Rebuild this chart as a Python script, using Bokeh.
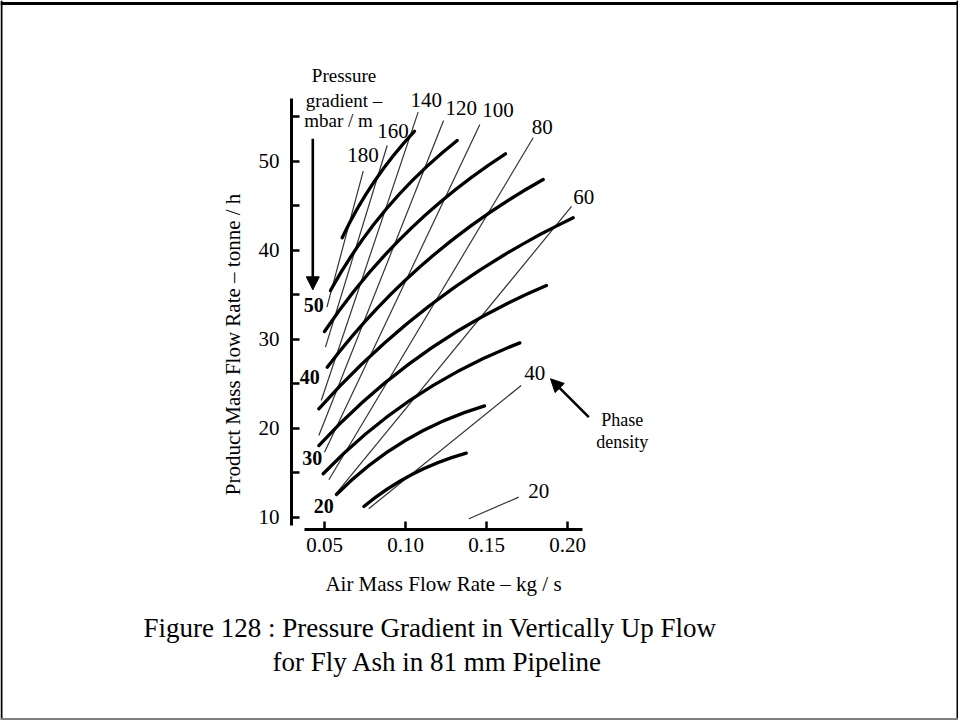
import math
from bokeh.plotting import figure
from bokeh.models import (Label, LabelSet, Arrow, NormalHead, FixedTicker, Range1d,
                          NumeralTickFormatter, ColumnDataSource)
from bokeh.embed import file_html
from bokeh.resources import INLINE

FONT = "Liberation Serif"

# ---------------- data ----------------
x_ticks = [0.05, 0.10, 0.15, 0.20]
y_ticks = [10, 20, 30, 40, 50]
y_minor_ticks = [15, 25, 35, 45, 55]

# pressure-gradient curves (thick): start, middle and end points
# (air mass flow kg/s, product mass flow t/h)
grad_levels = [15, 20, 25, 30, 35, 40, 45, 50, 55]
grad_x_start = [0.0743, 0.0574, 0.0492, 0.0465, 0.0465, 0.0517, 0.0500, 0.0537, 0.0609]
grad_y_start = [11.19, 12.54, 14.87, 18.04, 22.17, 26.84, 30.85, 35.46, 41.38]
grad_x_mid = [0.1041, 0.0996, 0.1054, 0.1114, 0.1191, 0.1123, 0.1002, 0.0881, 0.0807]
grad_y_mid = [14.79, 18.58, 23.44, 28.42, 34.34, 38.66, 41.88, 44.61, 47.69]
grad_x_end = [0.1375, 0.1488, 0.1706, 0.1870, 0.2035, 0.1850, 0.1617, 0.1319, 0.1056]
grad_y_end = [17.18, 22.50, 29.58, 36.02, 43.63, 47.93, 50.82, 52.31, 53.36]
grad_label_text = ["50", "40", "30", "20"]
grad_label_x = [0.0434, 0.0409, 0.0424, 0.0496]
grad_label_y = [33.78, 25.72, 16.64, 11.21]

# phase-density lines (thin)
pd_levels = [180, 160, 140, 120, 100, 80, 60, 40, 20]
pd_x0 = [0.0515, 0.0506, 0.0480, 0.0465, 0.0500, 0.0527, 0.0565, 0.0773, 0.1391]
pd_y0 = [33.60, 29.10, 23.10, 19.17, 17.29, 14.19, 12.50, 10.93, 9.81]
pd_x1 = [0.0739, 0.0887, 0.1078, 0.1235, 0.1459, 0.1788, 0.2025, 0.1714, 0.1699]
pd_y1 = [48.87, 51.75, 55.50, 54.56, 54.10, 52.62, 44.90, 24.79, 12.24]
pd_label_x = [0.0738, 0.0923, 0.1128, 0.1344, 0.1571, 0.1844, 0.2101, 0.1798, 0.1823]
pd_label_y = [50.63, 53.35, 56.90, 55.97, 55.78, 53.81, 45.94, 26.19, 12.90]

# ---------------- layout ----------------
W, H = 958, 720
# pixel -> data mapping of the reference (0.125 at x=445.5 px, 1620 px per kg/s;
# 30 t/h at y=338.6 px, 8.9 px per t/h)
X0 = 0.125 - 445.5 / 1620.0
X1 = 0.125 + (W - 445.5) / 1620.0
Y1 = 30 + 338.6 / 8.9
Y0 = 30 - (H - 338.6) / 8.9


def xd(px):
    return X0 + px * (X1 - X0) / W


def yd(py):
    return Y1 - py * (Y1 - Y0) / H


p = figure(width=W, height=H, output_backend="svg", toolbar_location=None,
           x_range=Range1d(X0, X1), y_range=Range1d(Y0, Y1),
           min_border=0, min_border_left=0, min_border_right=0,
           min_border_top=0, min_border_bottom=0)
p.outline_line_color = None
p.grid.visible = False
p.background_fill_color = "white"
p.border_fill_color = "white"

# axes
p.xaxis.ticker = FixedTicker(ticks=x_ticks)
p.xaxis.formatter = NumeralTickFormatter(format="0.00")
p.yaxis.ticker = FixedTicker(ticks=y_ticks, minor_ticks=y_minor_ticks)
p.xaxis.fixed_location = yd(529)
p.yaxis.fixed_location = xd(291)
p.xaxis.bounds = (xd(304), xd(582))
p.yaxis.bounds = (yd(525), yd(98))
for ax in (p.xaxis, p.yaxis):
    ax.axis_line_width = 3
    ax.axis_line_color = "black"
    ax.major_tick_line_width = 2.5
    ax.minor_tick_line_width = 2.5
    ax.major_tick_line_color = "black"
    ax.minor_tick_line_color = "black"
    ax.major_tick_in = 8
    ax.major_tick_out = 0
    ax.minor_tick_in = 8
    ax.minor_tick_out = 0
    ax.major_label_text_font = FONT
    ax.major_label_text_font_size = "21px"
    ax.major_label_text_color = "black"
p.xaxis.minor_tick_line_color = None
p.xaxis.major_label_standoff = 8
p.yaxis.major_label_standoff = 12
p.xaxis.axis_label = "Air Mass Flow Rate \u2013 kg / s"
p.xaxis.axis_label_text_font = FONT
p.xaxis.axis_label_text_font_size = "21px"
p.xaxis.axis_label_text_font_style = "normal"
p.xaxis.axis_label_text_color = "black"
p.xaxis.axis_label_standoff = 17

# phase density lines
p.segment(x0=pd_x0, y0=pd_y0, x1=pd_x1, y1=pd_y1, line_width=1.2, line_color="#333333")
# pressure gradient curves: quadratic curve through start, middle and end points
ctrl_x = [2 * m - (s + e) / 2 for s, m, e in zip(grad_x_start, grad_x_mid, grad_x_end)]
ctrl_y = [2 * m - (s + e) / 2 for s, m, e in zip(grad_y_start, grad_y_mid, grad_y_end)]
p.quadratic(x0=grad_x_start, y0=grad_y_start, x1=grad_x_end, y1=grad_y_end,
            cx=ctrl_x, cy=ctrl_y, line_width=3.3, line_color="black", line_cap="round")

# labels
pd_src = ColumnDataSource(dict(x=pd_label_x, y=pd_label_y, t=[str(v) for v in pd_levels]))
p.add_layout(LabelSet(x="x", y="y", text="t", source=pd_src, text_font=FONT,
                      text_font_size="21px", text_align="center", text_baseline="middle",
                      text_color="black"))
gl_src = ColumnDataSource(dict(x=grad_label_x, y=grad_label_y, t=grad_label_text))
p.add_layout(LabelSet(x="x", y="y", text="t", source=gl_src, text_font=FONT,
                      text_font_size="20px", text_font_style="bold", text_align="center",
                      text_baseline="middle", text_color="black"))


def lab(text, px, py, size="18px", align="center", angle=0.0, style="normal"):
    p.add_layout(Label(x=xd(px), y=yd(py), text=text, text_font=FONT, text_font_size=size,
                       text_align=align, text_baseline="middle", angle=angle,
                       text_color="black", text_font_style=style))


lab("Pressure", 343.5, 75, size="19px")
lab("gradient \u2013", 343.5, 99.5, size="19px")
lab("mbar / m", 338, 120, size="19px")
lab("Phase", 621.7, 419.2)
lab("density", 621.7, 441.7)
lab("Product Mass Flow Rate \u2013 tonne / h", 232, 344, size="21px", angle=math.pi / 2)
lab("Figure 128 : Pressure Gradient in Vertically Up Flow", 143, 627, size="27px", align="left")
lab("for Fly Ash in 81 mm Pipeline", 437, 661, size="27px")

# arrows
p.add_layout(Arrow(end=NormalHead(size=13, fill_color="black", line_color="black"),
                   x_start=xd(312.3), y_start=yd(138.3), x_end=xd(312.3), y_end=yd(289.3),
                   line_width=2.6, line_color="black"))
p.add_layout(Arrow(end=NormalHead(size=13, fill_color="black", line_color="black"),
                   x_start=xd(588.3), y_start=yd(416.7), x_end=xd(550), y_end=yd(378.3),
                   line_width=2.6, line_color="black"))

# page border
for (a, b, c, d, col, lw) in [
    (0, 3, 958, 3, "black", 3),
    (1, 0, 1, 720, "black", 2),
    (957, 0, 957, 720, "black", 2),
    (0, 718.5, 958, 718.5, "#808080", 2),
]:
    p.add_layout(Arrow(end=None, x_start=xd(a), y_start=yd(b), x_end=xd(c), y_end=yd(d),
                       line_width=lw, line_color=col))

open("out.html", "w").write(file_html(p, INLINE))
